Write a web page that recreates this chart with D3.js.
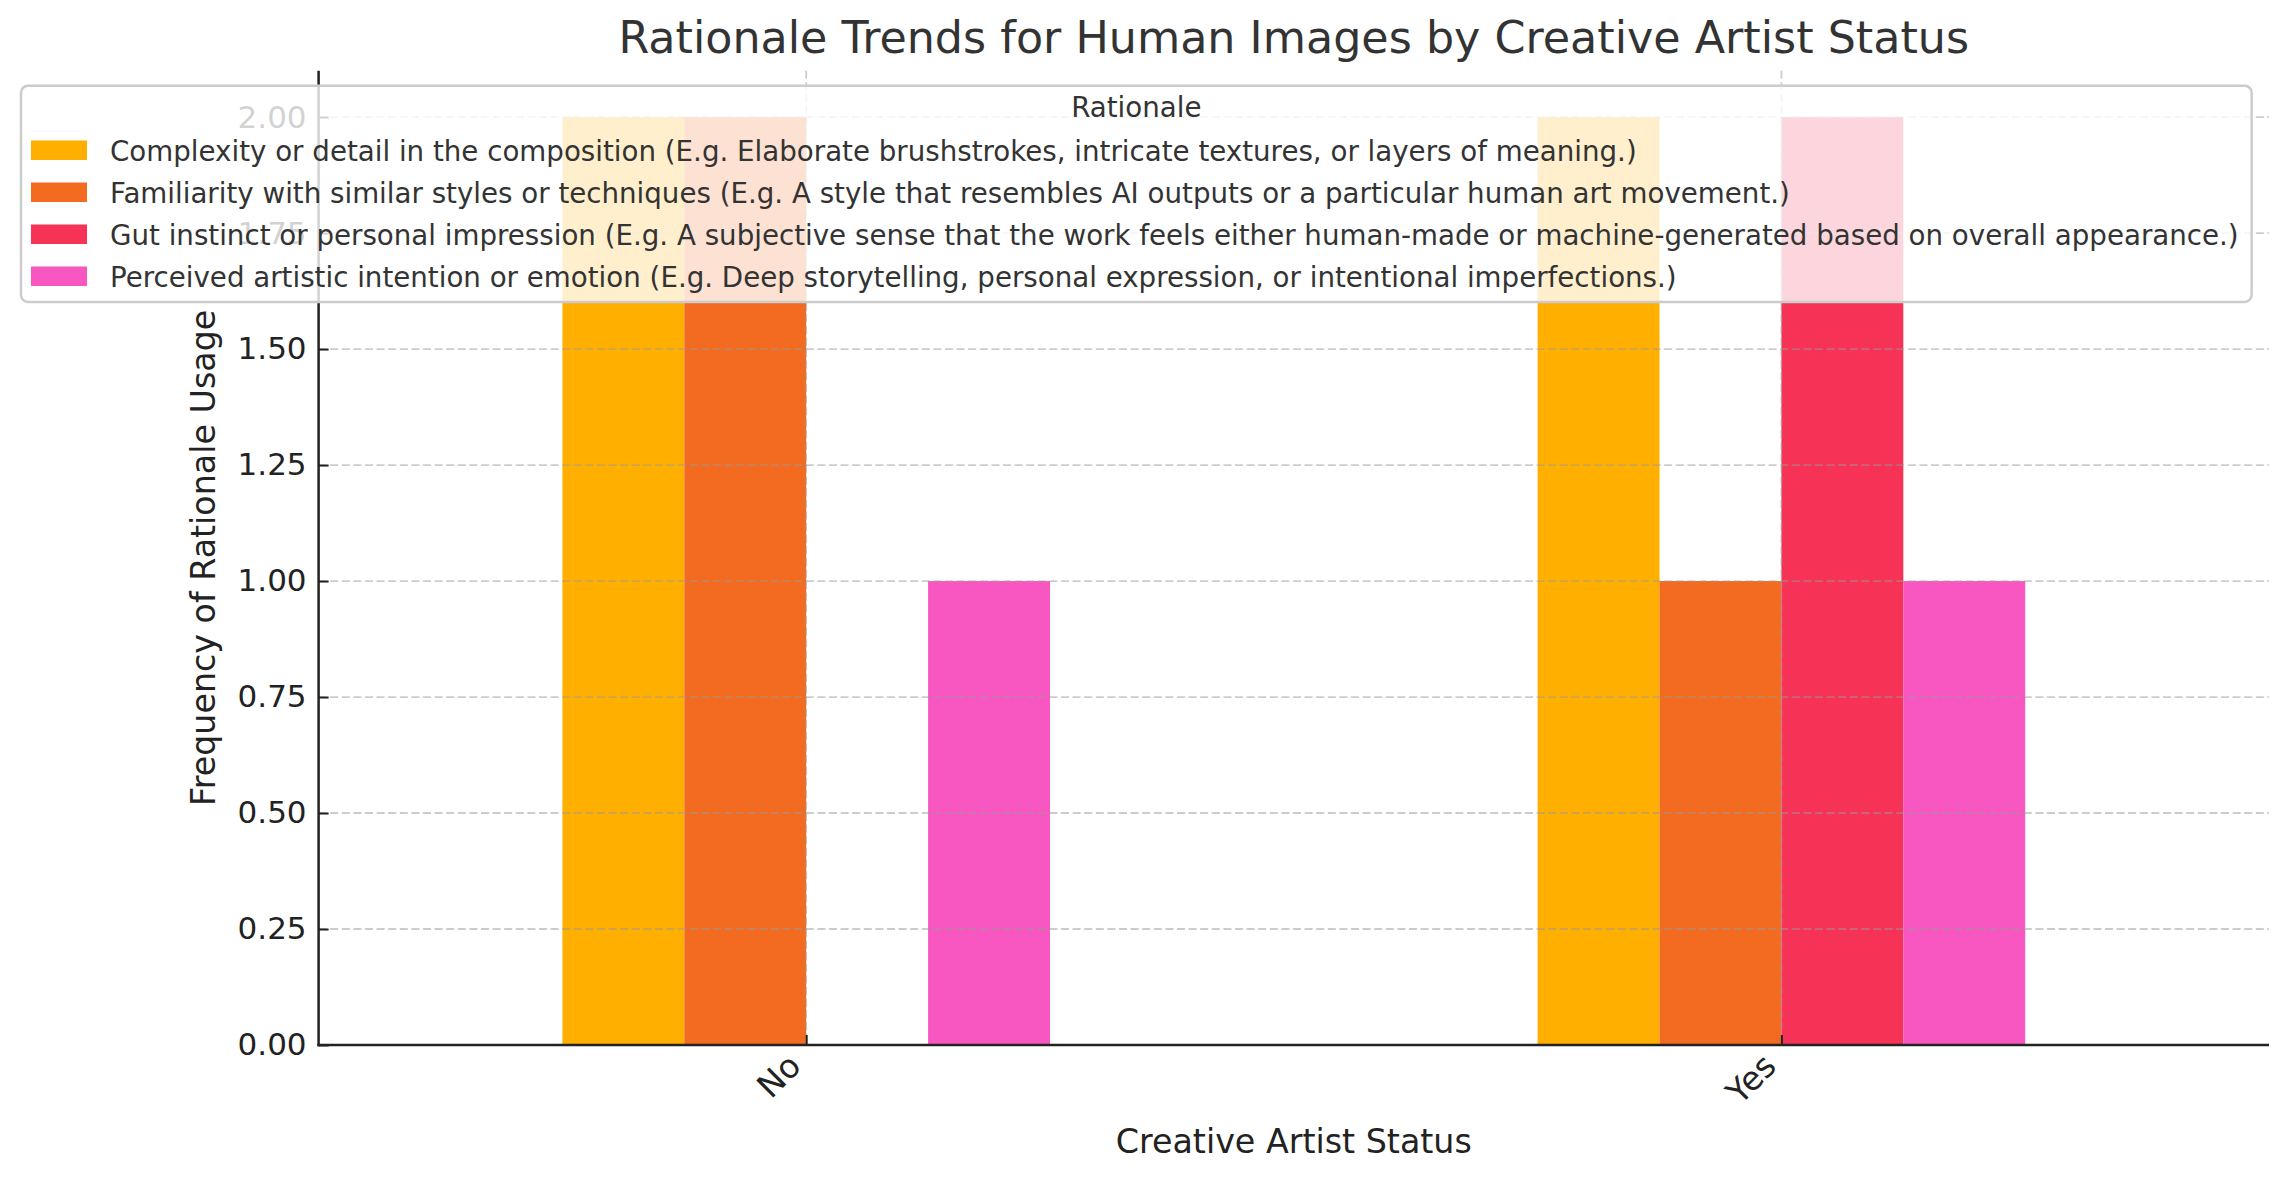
<!DOCTYPE html>
<html>
<head>
<meta charset="utf-8">
<script src="https://cdn.jsdelivr.net/npm/d3@7"></script>
<style>
  html, body { margin: 0; padding: 0; background: #fff; }
  svg { display: block; font-family: "DejaVu Sans", sans-serif; }
</style>
</head>
<body>
<svg id="chart" width="2288" height="1180"></svg>
<script>
// ---------------- data ----------------
const categories = ["No", "Yes"];
const seriesNames = [
  "Complexity or detail in the composition (E.g. Elaborate brushstrokes, intricate textures, or layers of meaning.)",
  "Familiarity with similar styles or techniques (E.g. A style that resembles AI outputs or a particular human art movement.)",
  "Gut instinct or personal impression (E.g. A subjective sense that the work feels either human-made or machine-generated based on overall appearance.)",
  "Perceived artistic intention or emotion (E.g. Deep storytelling, personal expression, or intentional imperfections.)"
];
const complexityValues  = [2, 2];
const familiarityValues = [2, 1];
const gutValues         = [0, 2];
const perceivedValues   = [1, 1];
const seriesValues = [complexityValues, familiarityValues, gutValues, perceivedValues];
const seriesColors = ["#FFAF00", "#F26B21", "#F63356", "#F857C1"];
const yTicks = [0, 0.25, 0.5, 0.75, 1.0, 1.25, 1.5, 1.75, 2.0];
const titleText = "Rationale Trends for Human Images by Creative Artist Status";
const xLabel = "Creative Artist Status";
const yLabel = "Frequency of Rationale Usage";
const legendTitle = "Rationale";

// ---------------- layout ----------------
const L = 318.6, R = 2269, T = 70.7, B = 1045;
const svg = d3.select("#chart");

const x = d3.scaleLinear().domain([-0.5, categories.length - 0.5]).range([L, R]);
const y = d3.scaleLinear().domain([0, 2.1]).range([B, T]);
const barW = 0.5 / seriesNames.length;

// bars
const barsG = svg.append("g");
seriesValues.forEach((vals, si) => {
  barsG.selectAll(null)
    .data(vals)
    .enter()
    .append("rect")
    .attr("x", (d, ci) => x(ci + (si - seriesNames.length / 2) * barW))
    .attr("width", x(barW) - x(0))
    .attr("y", d => y(d))
    .attr("height", d => y(0) - y(d))
    .attr("fill", seriesColors[si]);
});

// grid (drawn above bars)
const gridG = svg.append("g");
gridG.selectAll(null).data(yTicks).enter().append("line")
  .attr("x1", L).attr("x2", R)
  .attr("y1", d => y(d)).attr("y2", d => y(d))
  .attr("stroke", "#9a9a9a").attr("stroke-opacity", 0.5)
  .attr("stroke-width", 1.8).attr("stroke-dasharray", "8,3.6");
gridG.selectAll(null).data(categories).enter().append("line")
  .attr("x1", (d, i) => x(i)).attr("x2", (d, i) => x(i))
  .attr("y1", T).attr("y2", B)
  .attr("stroke", "#9a9a9a").attr("stroke-opacity", 0.5)
  .attr("stroke-width", 1.8).attr("stroke-dasharray", "8,3.6");

// y axis
const yAxis = d3.axisLeft(y).tickValues(yTicks).tickFormat(d3.format(".2f"))
  .tickSizeInner(-10).tickSizeOuter(0).tickPadding(12);
const yG = svg.append("g").attr("transform", `translate(${L},0)`).call(yAxis);
yG.select(".domain").remove();
yG.selectAll(".tick line").attr("stroke", "#222").attr("stroke-width", 2);
yG.selectAll(".tick text").attr("font-size", 31).attr("fill", "#222")
  .attr("font-family", "DejaVu Sans").attr("x", -12);

// x axis
const xAxis = d3.axisBottom(x).tickValues(categories.map((d, i) => i))
  .tickFormat(i => categories[i]).tickSizeInner(-10).tickSizeOuter(0);
const xG = svg.append("g").attr("transform", `translate(0,${B})`).call(xAxis);
xG.select(".domain").remove();
xG.selectAll(".tick line").attr("stroke", "#222").attr("stroke-width", 2);
xG.selectAll(".tick text")
  .attr("font-size", 33).attr("fill", "#222").attr("font-family", "DejaVu Sans")
  .attr("text-anchor", "end")
  .attr("y", 0).attr("dy", 0)
  .attr("transform", "translate(-4,23) rotate(-45)");

// spines
svg.append("line").attr("x1", L).attr("x2", L).attr("y1", T).attr("y2", B + 1.25)
  .attr("stroke", "#222").attr("stroke-width", 2.5);
svg.append("line").attr("x1", L - 1.25).attr("x2", R).attr("y1", B).attr("y2", B)
  .attr("stroke", "#222").attr("stroke-width", 2.5);

// titles
svg.append("text").attr("x", (L + R) / 2).attr("y", 53)
  .attr("text-anchor", "middle").attr("font-size", 44.4).attr("fill", "#333")
  .text(titleText);
svg.append("text").attr("x", (L + R) / 2).attr("y", 1153)
  .attr("text-anchor", "middle").attr("font-size", 33.3).attr("fill", "#222")
  .text(xLabel);
svg.append("text").attr("transform", `translate(215,${(T + B) / 2}) rotate(-90)`)
  .attr("text-anchor", "middle").attr("font-size", 33.3).attr("fill", "#222")
  .text(yLabel);

// legend
const lg = svg.append("g");
const lgLeft = 21, lgTop = 85.7, rowH = 42, lgFont = 27.7;
const box = lg.append("rect");
const lgTitle = lg.append("text").attr("y", 117.3).attr("text-anchor", "middle")
  .attr("font-size", lgFont).attr("fill", "#333").text(legendTitle);
let maxW = 0;
seriesNames.forEach((name, i) => {
  lg.append("rect").attr("x", 31).attr("y", 140.5 + i * rowH)
    .attr("width", 56).attr("height", 19.5).attr("fill", seriesColors[i]);
  const t = lg.append("text").attr("x", 110).attr("y", 160.5 + i * rowH)
    .attr("font-size", lgFont).attr("fill", "#333").text(name);
  maxW = Math.max(maxW, t.node().getComputedTextLength());
});
const lgRight = 110 + maxW + 13;
box.attr("x", lgLeft).attr("y", lgTop)
  .attr("width", lgRight - lgLeft).attr("height", 302 - lgTop)
  .attr("rx", 7).attr("ry", 7)
  .attr("fill", "#fff").attr("fill-opacity", 0.8)
  .attr("stroke", "#cccccc").attr("stroke-width", 2.5);
lgTitle.attr("x", (lgLeft + lgRight) / 2);
</script>
</body>
</html>
